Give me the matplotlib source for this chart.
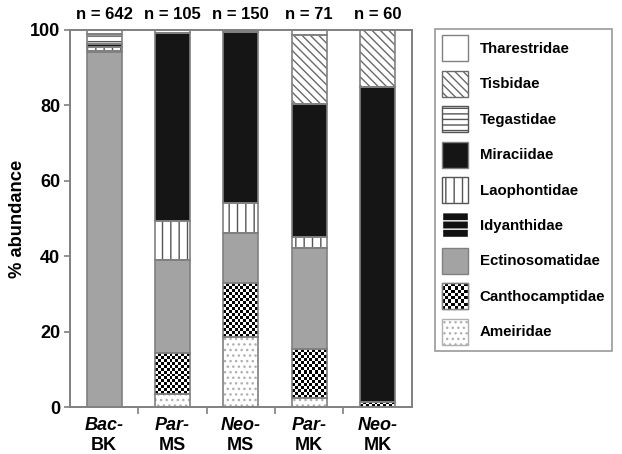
import numpy as np
import matplotlib.pyplot as plt
import matplotlib.patches as mpatches
from matplotlib.legend_handler import HandlerPatch

plt.rcParams['font.family'] = ['Liberation Sans', 'DejaVu Sans']
plt.rcParams['font.weight'] = 'bold'
plt.rcParams['hatch.linewidth'] = 1.0

sites_top = ['Bac-', 'Par-', 'Neo-', 'Par-', 'Neo-']
sites_bottom = ['BK', 'MS', 'MS', 'MK', 'MK']
n_labels = ['n = 642', 'n = 105', 'n = 150', 'n = 71', 'n = 60']

# stacking order, bottom to top
families = ['Ameiridae', 'Canthocamptidae', 'Ectinosomatidae', 'Idyanthidae',
            'Laophontidae', 'Miraciidae', 'Tegastidae', 'Tisbidae', 'Tharestridae']

ameiridae       = [0.0, 3.4, 18.5, 2.5, 0.0]
canthocamptidae = [0.0, 10.8, 14.3, 12.9, 1.4]
ectinosomatidae = [94.2, 24.8, 13.3, 26.7, 0.0]
idyanthidae     = [0.3, 0.0, 0.0, 0.0, 0.0]
laophontidae    = [1.0, 10.4, 7.9, 3.1, 0.0]
miraciidae      = [0.8, 49.8, 45.5, 35.2, 83.6]
tegastidae      = [2.5, 0.0, 0.0, 0.0, 0.0]
tisbidae        = [0.0, 0.0, 0.0, 18.3, 15.0]
tharestridae    = [1.2, 0.8, 0.5, 1.3, 0.0]

values = [ameiridae, canthocamptidae, ectinosomatidae, idyanthidae,
          laophontidae, miraciidae, tegastidae, tisbidae, tharestridae]

# face, hatch colour, hatch  (checker is drawn as an image)
STYLE = {
    'Ameiridae':       ('white',   '#b0b0b0', '...'),
    'Canthocamptidae': ('#111111', 'white',   'checker'),
    'Ectinosomatidae': ('#a3a3a3', '#a3a3a3', None),
    'Idyanthidae':     ('#111111', 'white',   '--'),
    'Laophontidae':    ('white',   '#555555', '||'),
    'Miraciidae':      ('#151515', '#151515', None),
    'Tegastidae':      ('white',   '#555555', '---'),
    'Tisbidae':        ('white',   '#6a6a6a', '\\\\\\\\'),
    'Tharestridae':    ('white',   'white',   None),
}
EDGE = '#808080'
CELL_PX = 3.0


def checker(nx, ny):
    return (np.add.outer(np.arange(ny), np.arange(nx)) % 2).astype(float)


fig = plt.figure(figsize=(6.22, 4.54), dpi=100)
ax = fig.add_axes([0.1125, 0.1035, 0.5495, 0.8305])

x = np.arange(len(sites_top))
width = 0.51
ax.set_xlim(-0.5, len(x) - 0.5)
ax.set_ylim(0, 100)

ax_w_px = fig.get_figwidth() * fig.dpi * 0.5495
ax_h_px = fig.get_figheight() * fig.dpi * 0.8305
px_per_x = ax_w_px / len(x)
px_per_y = ax_h_px / 100.0

bottom = np.zeros(len(x))
for fam, vals in zip(families, values):
    vals = np.array(vals)
    fc, hc, h = STYLE[fam]
    if h == 'checker':
        bars = ax.bar(x, vals, width, bottom=bottom, color='black',
                      linewidth=0, zorder=2)
        for b, v, b0 in zip(bars, vals, bottom):
            if v <= 0:
                continue
            nx = max(1, int(round(width * px_per_x / CELL_PX)))
            ny = max(1, int(round(v * px_per_y / CELL_PX)))
            im = ax.imshow(checker(nx, ny), cmap='gray', vmin=0, vmax=1,
                           extent=(b.get_x(), b.get_x() + width, b0, b0 + v),
                           origin='lower', interpolation='nearest',
                           aspect='auto', zorder=2.5)
            im.set_clip_path(b)
    else:
        ax.bar(x, vals, width, bottom=bottom, color=fc, edgecolor=hc,
               hatch=h, linewidth=0, zorder=2)
    ax.bar(x, vals, width, bottom=bottom, facecolor='none',
           edgecolor=EDGE, linewidth=1.2, zorder=3)
    bottom += vals

ax.set_xlim(-0.5, len(x) - 0.5)
ax.set_ylim(0, 100)
ax.set_yticks([0, 20, 40, 60, 80, 100])
ax.set_yticklabels(['0', '20', '40', '60', '80', '100'], fontsize=13, fontweight='bold')
ax.set_xticks([])
ax.set_xticks(np.arange(0.5, len(x) - 0.5, 1), minor=True)
ax.tick_params(axis='x', which='minor', length=5, color=EDGE, width=1.2, direction='out')
ax.tick_params(axis='y', length=4, color=EDGE, width=1.2, pad=3)
for s in ax.spines.values():
    s.set_color(EDGE)
    s.set_linewidth(1.4)

ax.set_ylabel('% abundance', fontsize=13.2, fontweight='bold', labelpad=3)

for i in range(len(x)):
    ax.text(x[i], -0.06, sites_top[i], transform=ax.get_xaxis_transform(),
            ha='center', va='baseline', fontsize=13, fontweight='bold', style='italic')
    ax.text(x[i], -0.113, sites_bottom[i], transform=ax.get_xaxis_transform(),
            ha='center', va='baseline', fontsize=13, fontweight='bold')
    ax.text(x[i], 1.02, n_labels[i], transform=ax.get_xaxis_transform(),
            ha='center', va='bottom', fontsize=12, fontweight='bold')


class CheckerHandler(HandlerPatch):
    def create_artists(self, legend, orig_handle, xdescent, ydescent,
                       width, height, fontsize, trans):
        rect = mpatches.Rectangle((-xdescent, -ydescent), width, height,
                                  facecolor='black', edgecolor=EDGE,
                                  linewidth=1.0, transform=trans)
        arts = [rect]
        n = 8
        cw, ch = width / n, height / n
        for r in range(n):
            for c in range(n):
                if (r + c) % 2:
                    arts.append(mpatches.Rectangle(
                        (-xdescent + c * cw, -ydescent + r * ch), cw, ch,
                        facecolor='white', edgecolor='none', transform=trans))
        frame = mpatches.Rectangle((-xdescent, -ydescent), width, height,
                                   facecolor='none', edgecolor=EDGE,
                                   linewidth=1.0, transform=trans)
        arts.append(frame)
        return arts


handles = []
handler_map = {}
for fam in families[::-1]:
    fc, hc, h = STYLE[fam]
    if h == 'checker':
        p = mpatches.Patch(facecolor='black', edgecolor=EDGE, label=fam)
        handler_map[p] = CheckerHandler()
    else:
        p = mpatches.Patch(facecolor=fc, edgecolor=hc if h else EDGE,
                           hatch=h, linewidth=1.0, label=fam)
    handles.append(p)

leg = fig.legend(handles=handles, handler_map=handler_map, loc='upper left',
                 bbox_to_anchor=(0.699, 0.937), borderaxespad=0,
                 fontsize=10.8, frameon=True, fancybox=False, edgecolor=EDGE,
                 handlelength=1.75, handleheight=2.3, labelspacing=0.62,
                 borderpad=0.45, handletextpad=0.8)
leg.get_frame().set_linewidth(1.2)

fig.savefig('out.png', dpi=100, facecolor='white')
